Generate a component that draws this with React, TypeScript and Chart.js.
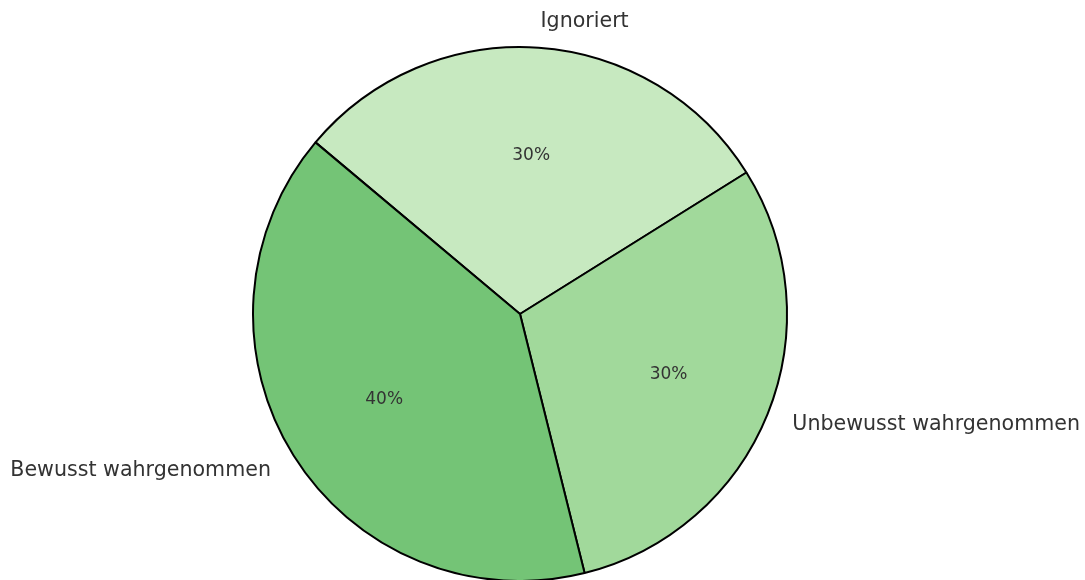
import React, { useEffect, useRef } from "react";
import { Chart, registerables } from "chart.js";

Chart.register(...registerables);

// Data (matplotlib order, counter-clockwise from startangle 140°)
const categories: string[] = ["Bewusst wahrgenommen", "Unbewusst wahrgenommen", "Ignoriert"];
const values: number[] = [40, 30, 30];
const colors: string[] = ["#74c476", "#a1d99b", "#c7e9c0"];
const startAngleDeg = 140;

const TEXT_COLOR = "#333333";
const FONT = "'DejaVu Sans', sans-serif";

export default function App() {
  const ref = useRef<HTMLCanvasElement | null>(null);

  useEffect(() => {
    if (!ref.current) return;
    // Chart.js draws clockwise; reverse to reproduce the counter-clockwise layout
    const labels = [...categories].reverse();
    const data = [...values].reverse();
    const bg = [...colors].reverse();
    const total = values.reduce((a, b) => a + b, 0);

    const labelPlugin = {
      id: "pieLabels",
      afterDatasetsDraw(chart: any) {
        const ctx = chart.ctx;
        const meta = chart.getDatasetMeta(0);
        ctx.save();
        meta.data.forEach((arc: any, i: number) => {
          const { x, y, startAngle, endAngle, outerRadius } = arc.getProps(
            ["x", "y", "startAngle", "endAngle", "outerRadius"],
            true
          );
          const mid = (startAngle + endAngle) / 2;
          const c = Math.cos(mid);
          const s = Math.sin(mid);
          // outer label
          ctx.fillStyle = TEXT_COLOR;
          ctx.font = `20.6px ${FONT}`;
          ctx.textBaseline = "middle";
          ctx.textAlign = c >= 0 ? "left" : "right";
          ctx.fillText(labels[i], x + c * outerRadius * 1.1, y + s * outerRadius * 1.1 + 1);
          // percentage
          ctx.font = `17px ${FONT}`;
          ctx.textAlign = "center";
          const pct = Math.round((data[i] / total) * 100) + "%";
          ctx.fillText(pct, x + c * outerRadius * 0.6, y + s * outerRadius * 0.6 + 1);
        });
        ctx.restore();
      },
    };

    const chart = new Chart(ref.current, {
      type: "pie",
      data: {
        labels,
        datasets: [
          {
            data,
            backgroundColor: bg,
            borderColor: "#000000",
            borderWidth: 2,
            borderAlign: "center",
            clip: false,
          } as any,
        ],
      },
      options: {
        animation: false,
        responsive: false,
        rotation: 90 - startAngleDeg,
        radius: 267,
        layout: { padding: { left: 0, right: 45, top: 48, bottom: 0 } },
        plugins: {
          legend: { display: false },
          tooltip: { enabled: false },
        },
      } as any,
      plugins: [labelPlugin],
    });
    return () => chart.destroy();
  }, []);

  return (
    <div style={{ position: "fixed", left: 0, top: 0, width: 1085, height: 580, background: "#ffffff" }}>
      <canvas ref={ref} width={1085} height={580} style={{ width: 1085, height: 580 }} />
    </div>
  );
}
